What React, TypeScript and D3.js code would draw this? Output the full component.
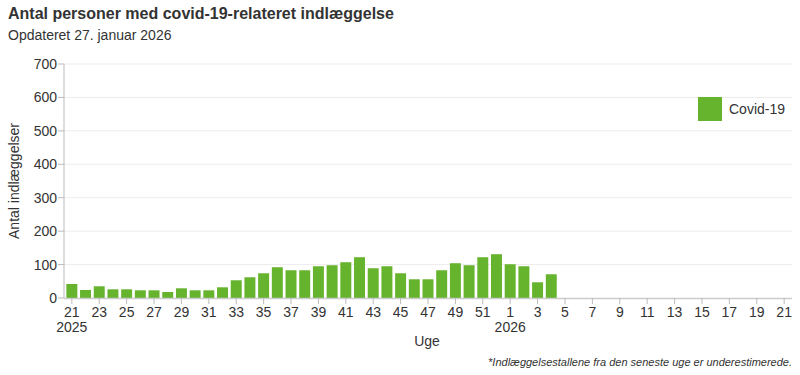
import React from 'react';
import * as d3 from 'd3';

// week labels (ISO weeks), 2025 uge 21 to 2026 uge 21
const weeks2025 = d3.range(21, 53).map((w) => `2025-${w}`);
const weeks2026 = d3.range(1, 22).map((w) => `2026-${w}`);
const weeks = [...weeks2025, ...weeks2026];

// number of admissions per week (last weeks without data)
const admissions = [
  42, 24, 35, 26, 26, 23, 23, 18, 29, 23, 23, 32, 53, 62, 74, 92, 83, 83, 95, 98,
  107, 122, 89, 95, 74, 56, 56, 83, 104, 98, 122, 131, 101, 95, 47, 71,
];

const yTicks = [0, 100, 200, 300, 400, 500, 600, 700];

const App = () => {
  const width = 800;
  const height = 375;
  const margin = { top: 64, right: 10, bottom: 77, left: 64 };

  const x = d3
    .scaleBand<string>()
    .domain(weeks)
    .range([margin.left + 1, width - margin.right + 1])
    .paddingInner(0.2)
    .paddingOuter(0.1);

  const y = d3
    .scaleLinear()
    .domain([0, 700])
    .range([height - margin.bottom, margin.top]);

  const data = admissions.map((v, i) => ({ week: weeks[i], value: v }));
  const labelled = weeks.filter((w) => +w.split('-')[1] % 2 === 1);
  const font = 'Liberation Sans, Arial, sans-serif';
  const x0 = margin.left;
  const x1 = width - margin.right + 2;

  return (
    <svg width={width} height={height} style={{ position: 'absolute', left: 0, top: 0, fontFamily: font }}>
      <rect width={width} height={height} fill="#fff" />
      <text x={8} y={19} fontSize={16} fontWeight="bold" fill="#333">
        Antal personer med covid-19-relateret indlæggelse
      </text>
      <text x={8} y={40} fontSize={14} fill="#333">
        Opdateret 27. januar 2026
      </text>

      {/* grid */}
      {yTicks.map((t) => (
        <g key={t}>
          {t > 0 && <line x1={x0} x2={x1} y1={y(t)} y2={y(t)} stroke="#ececec" />}
          <line x1={x0 - 6} x2={x0} y1={y(t)} y2={y(t)} stroke="#bbb" />
          <text x={x0 - 7} y={y(t) + 5} fontSize={14} textAnchor="end" fill="#333">
            {t}
          </text>
        </g>
      ))}

      {/* bars */}
      {data.map((d) => (
        <rect
          key={d.week}
          x={x(d.week)}
          y={y(d.value)}
          width={x.bandwidth()}
          height={y(0) - y(d.value)}
          fill="#66b32e"
        />
      ))}

      {/* axes */}
      <line x1={x0} x2={x0} y1={margin.top} y2={y(0)} stroke="#bbb" />
      <line x1={x0} x2={x1} y1={y(0) + 0.5} y2={y(0) + 0.5} stroke="#ccc" strokeWidth={1.5} />
      {labelled.map((w) => {
        const cx = (x(w) ?? 0) + x.bandwidth() / 2;
        const [yr, wk] = w.split('-');
        return (
          <g key={w}>
            <line x1={cx} x2={cx} y1={y(0)} y2={y(0) + 6} stroke="#bbb" />
            <text x={cx} y={y(0) + 19} fontSize={14} textAnchor="middle" fill="#333">
              {wk}
            </text>
            {((yr === '2025' && wk === '21') || (yr === '2026' && wk === '1')) && (
              <text x={cx} y={y(0) + 34} fontSize={14} textAnchor="middle" fill="#333">
                {yr}
              </text>
            )}
          </g>
        );
      })}

      <text x={427} y={346} fontSize={14} textAnchor="middle" fill="#333">
        Uge
      </text>
      <text
        transform={`translate(19, ${(margin.top + y(0)) / 2}) rotate(-90)`}
        fontSize={14}
        textAnchor="middle"
        fill="#333"
      >
        Antal indlæggelser
      </text>

      {/* legend */}
      <rect x={698} y={97} width={24} height={24} fill="#66b32e" />
      <text x={729} y={114} fontSize={14} fill="#333">
        Covid-19
      </text>

      <text x={792} y={366} fontSize={11} fontStyle="italic" textAnchor="end" fill="#333">
        *Indlæggelsestallene fra den seneste uge er underestimerede.
      </text>
    </svg>
  );
};

export default App;
